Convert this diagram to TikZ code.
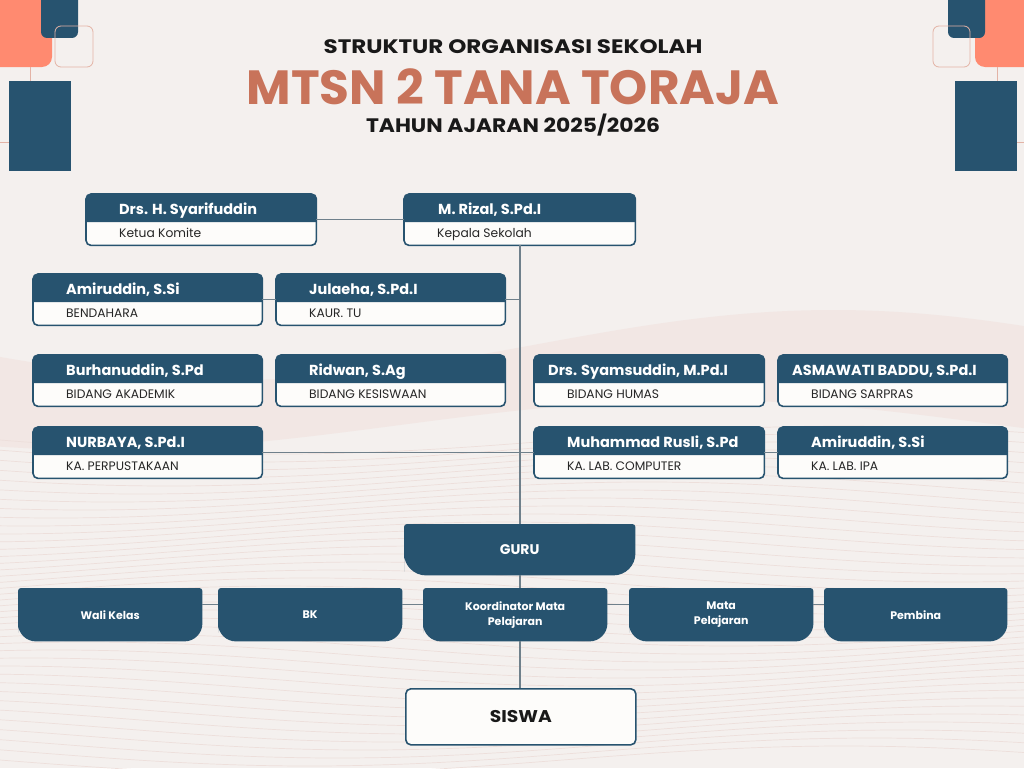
\documentclass[tikz,border=0pt]{standalone}
\usepackage{fontspec}
\usepackage{graphicx}
\setmainfont{Poppins}
\definecolor{navy}{HTML}{27536F}
\definecolor{salmon}{HTML}{FF8A70}
\definecolor{titleor}{HTML}{C8735A}
\definecolor{bgc}{HTML}{F4F0EE}
\definecolor{wavec}{HTML}{EDDFDB}
\definecolor{bandc}{HTML}{F2E7E4}
\definecolor{connc}{HTML}{6F808B}
\definecolor{thinc}{HTML}{E3B3A6}
\definecolor{cardw}{HTML}{FDFCFA}
\tikzset{
  conn/.style={draw=connc, line width=1.1pt},
  cardbox/.style={inner sep=0pt, draw=none, minimum height=51pt},
  cardline/.style={draw=navy, line width=1.6pt, rounded corners=5pt},
  cardtitle/.style={text=white, font=\fontsize{14.5}{16}\selectfont\bfseries, inner sep=0pt},
  cardsub/.style={text=black!85, font=\fontsize{12.3}{14}\selectfont, inner sep=0pt},
  tealbox/.style={inner sep=0pt, draw=none},
  tealtext/.style={text=white, font=\fontsize{11}{15}\selectfont\bfseries, align=center, inner sep=0pt},
  wave/.style={draw=wavec, line width=0.7pt},
  headtext/.style={inner sep=0pt, text=black!90},
}
\newcommand\orgcard[7]{%
  \node[cardbox, minimum width={#4-#2}, anchor=north west] (#1) at (#2,#3) {};
  \fill[cardw, rounded corners=5pt] (#1.north west) rectangle (#1.south east);
  \fill[navy] ([yshift=-28pt]#1.north west) {[rounded corners=5pt] -- (#1.north west) -- (#1.north east)} -- ([yshift=-28pt]#1.north east) -- cycle;
  \draw[cardline] (#1.north west) rectangle (#1.south east);
  \node[cardtitle, anchor=base west] (#1-t) at ([xshift=#7pt, yshift=-20.5pt]#1.north west) {#5};
  \node[cardsub, anchor=base west] (#1-s) at ([xshift=33pt, yshift=-43pt]#1.north west) {#6};
}
\newcommand\tealnode[7]{% name x1 y1 x2 y2 text bottomradius
  \node[tealbox, minimum width={#4-#2}, minimum height={#5-#3}, anchor=north west] (#1) at (#2,#3) {};
  \fill[navy] (#1.west) [rounded corners=3pt] -- (#1.north west) -- (#1.north east) -- (#1.east) [rounded corners=#7pt] -- (#1.south east) -- (#1.south west) -- cycle;
  \node[tealtext] (#1-t) at (#1.center) {#6};
}
\begin{document}
\begin{tikzpicture}[x=1pt,y=-1pt]
\useasboundingbox (0,0) rectangle (1024,768);
\fill[bgc] (0,0) rectangle (1024,768);
% background band and waves
\fill[bandc] plot[domain=0:1024, samples=60, smooth] (\x, {345 + 35*sin(\x*0.3 + 20)}) -- plot[domain=1024:0, samples=60, smooth] (\x, {425 + 25*sin(\x*0.3 + 60)}) -- cycle;
\foreach \i in {0,...,40} {
  \draw[wave] plot[domain=0:1024, samples=60, smooth] (\x, {440 + \i*8 + 14*sin(\x*0.32 + \i*9)});
}
% corner decorations
\fill[salmon, rounded corners=10pt] (-20,-20) rectangle (52,67);
\fill[navy, rounded corners=6pt] (41,-10) rectangle (78,38);
\draw[thinc, line width=0.8pt, rounded corners=6pt] (55,26) rectangle (93,67);
\draw[thinc, line width=0.8pt] (30,67) -- (30,81);
\draw[thinc, line width=0.8pt] (0,142) -- (9,142);
\fill[navy] (9,81) rectangle (71,171);
\fill[salmon, rounded corners=10pt] (975,-20) rectangle (1044,67);
\fill[navy, rounded corners=6pt] (948,-10) rectangle (985,38);
\draw[thinc, line width=0.8pt, rounded corners=6pt] (933,26) rectangle (970,67);
\draw[thinc, line width=0.8pt] (997,67) -- (997,81);
\draw[thinc, line width=0.8pt] (1017,142) -- (1024,142);
\fill[navy] (955,81) rectangle (1017,171);
% titles
\node[headtext, font=\fontsize{19.5}{22}\selectfont\bfseries] (t1) at (513,47) {\scalebox{1.18}[1]{STRUKTUR ORGANISASI SEKOLAH}};
\node[headtext, font=\fontsize{48}{52}\selectfont\bfseries, text=titleor] (t2) at (513,87) {\scalebox{1.01}[1]{MTSN 2 TANA TORAJA}};
\node[headtext, font=\fontsize{19.5}{22}\selectfont\bfseries] (t3) at (513,125) {\scalebox{1.12}[1]{TAHUN AJARAN 2025/2026}};
% cards
\orgcard{syar}{86}{194}{316}{Drs. H. Syarifuddin}{Ketua Komite}{33}
\orgcard{rizal}{404}{194}{635}{M. Rizal, S.Pd.I}{Kepala Sekolah}{34}
\orgcard{amir}{33}{274}{262}{Amiruddin, S.Si}{BENDAHARA}{33}
\orgcard{jula}{276}{274}{505}{Julaeha, S.Pd.I}{KAUR. TU}{33}
\orgcard{burh}{33}{355}{262}{Burhanuddin, S.Pd}{BIDANG AKADEMIK}{33}
\orgcard{ridw}{276}{355}{505}{Ridwan, S.Ag}{BIDANG KESISWAAN}{33}
\orgcard{syam}{534}{355}{764}{Drs. Syamsuddin, M.Pd.I}{BIDANG HUMAS}{14}
\orgcard{asma}{778}{355}{1007}{ASMAWATI BADDU, S.Pd.I}{BIDANG SARPRAS}{14}
\orgcard{nurb}{33}{427}{262}{NURBAYA, S.Pd.I}{KA. PERPUSTAKAAN}{33}
\orgcard{rusl}{534}{427}{764}{Muhammad Rusli, S.Pd}{KA. LAB. COMPUTER}{33}
\orgcard{amir2}{778}{427}{1007}{Amiruddin, S.Si}{KA. LAB. IPA}{33}
% guru and bottom row
\tealnode{guru}{404}{524}{635}{575}{\fontsize{14}{16}\selectfont GURU}{22}
\tealnode{wali}{18}{588}{202}{641}{Wali Kelas}{18}
\tealnode{bk}{218}{588}{402}{641}{BK}{18}
\tealnode{koor}{423}{588}{607}{641}{Koordinator Mata\\Pelajaran}{18}
\tealnode{mata}{629}{588}{813}{641}{Mata\\Pelajaran}{18}
\tealnode{pemb}{824}{588}{1007}{641}{Pembina}{18}
% siswa
\node[draw=navy, line width=1.6pt, fill=cardw, rounded corners=5pt, minimum width=230pt, minimum height=56pt, inner sep=0pt, font=\fontsize{17}{19}\selectfont\bfseries, text=black!90, anchor=north west] (siswa) at (405,688) {\scalebox{1.1}[1]{SISWA}};
% connectors
\draw[conn] (syar.east) -- (rizal.west);
\draw[conn] (rizal.south -| 520,0) -- (guru.north -| 520,0);
\draw[conn] (amir.east) -- (jula.west);
\draw[conn] (jula.east) -- (jula.east -| 520,0);
\draw[conn] (nurb.east) -- (rusl.west);
\draw[conn] (rusl.east) -- (amir2.west);
\draw[conn] (guru.south -| 520,0) -- (koor.north -| 520,0);
\coordinate (wl) at ([yshift=10pt]wali.east);
\draw[conn] (wl) -- (wl -| bk.west);
\draw[conn] (wl -| bk.east) -- (wl -| koor.west);
\draw[conn] (wl -| koor.east) -- (wl -| mata.west);
\draw[conn] (wl -| mata.east) -- (wl -| pemb.west);
\draw[conn] (koor.south -| 520,0) -- (siswa.north -| 520,0);
\end{tikzpicture}
\end{document}
